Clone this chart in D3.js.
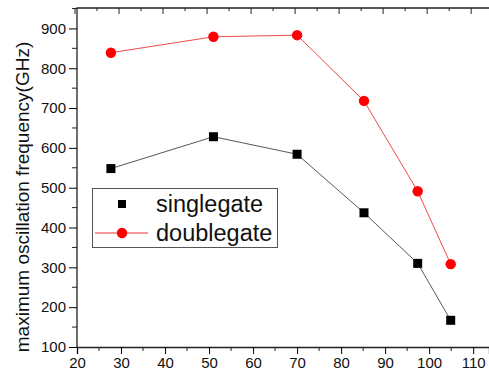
<!DOCTYPE html>
<html>
<head>
<meta charset="utf-8">
<script src="https://cdn.jsdelivr.net/npm/d3@7"></script>
<style>
  body { margin: 0; background: #fff; }
  svg { display: block; font-family: "Liberation Sans", Arial, sans-serif; }
</style>
</head>
<body>
<svg width="489" height="374"></svg>
<script>
const xs = [27.7, 51, 70, 85.2, 97.4, 104.9];
const singlegate = [548, 628, 584, 437, 310, 167];
const doublegate = [839, 879, 883, 718, 491, 308];
const xTicks = [20, 30, 40, 50, 60, 70, 80, 90, 100, 110];
const yTicks = [100, 200, 300, 400, 500, 600, 700, 800, 900];
const seriesNames = ["singlegate", "doublegate"];

const svg = d3.select("svg");
const plotLeft = 77, plotRight = 489, plotTop = 8, plotBottom = 347;

const x = d3.scaleLinear().domain([20, 113.6]).range([plotLeft, plotRight]);
const y = d3.scaleLinear().domain([100, 950]).range([plotBottom, plotTop + 0.5]);

// frame (right side cut off in the original)
svg.append("path")
    .attr("d", `M${plotLeft},${plotBottom}V${plotTop}H${plotRight + 2}`)
    .attr("fill", "none")
    .attr("stroke", "#222")
    .attr("stroke-width", 1.3);

// bottom axis
const xAxis = svg.append("g")
    .attr("transform", `translate(0,${plotBottom})`)
    .call(d3.axisBottom(x).tickValues(xTicks).tickSize(7).tickPadding(3).tickFormat(d3.format("d")));
xAxis.select(".domain").attr("stroke", "#222").attr("stroke-width", 1.3);
xAxis.selectAll("text").attr("font-size", 15).attr("fill", "#111").style("font-family", "Liberation Sans, Arial, sans-serif");
svg.append("g")
    .attr("transform", `translate(0,${plotBottom})`)
    .selectAll("line")
    .data(xTicks.map(d => d + 5))
    .join("line")
    .attr("x1", d => x(d)).attr("x2", d => x(d))
    .attr("y1", 0).attr("y2", 4)
    .attr("stroke", "#222");

// top ticks (inward)
svg.append("g")
    .selectAll("line")
    .data(xTicks.concat(xTicks.map(d => d + 5)))
    .join("line")
    .attr("x1", d => x(d) - 2).attr("x2", d => x(d) - 2)
    .attr("y1", plotTop).attr("y2", d => plotTop + (d % 10 === 0 ? 6 : 3))
    .attr("stroke", "#222");

// left axis
const yAxis = svg.append("g")
    .attr("transform", `translate(${plotLeft},0)`)
    .call(d3.axisLeft(y).tickValues(yTicks).tickSize(8).tickPadding(3).tickFormat(d3.format("d")));
yAxis.select(".domain").remove();
yAxis.selectAll("text").attr("font-size", 15).attr("fill", "#111").style("font-family", "Liberation Sans, Arial, sans-serif");
svg.append("g")
    .selectAll("line")
    .data(yTicks.map(d => d + 50))
    .join("line")
    .attr("x1", plotLeft - 5).attr("x2", plotLeft)
    .attr("y1", d => y(d)).attr("y2", d => y(d))
    .attr("stroke", "#222");

svg.append("text")
    .attr("transform", "translate(29,197) rotate(-90)")
    .attr("text-anchor", "middle")
    .attr("font-size", 19)
    .attr("fill", "#111")
    .text("maximum oscillation frequency(GHz)");

const line = d3.line().x((d, i) => x(xs[i])).y(d => y(d));

// singlegate
svg.append("path")
    .datum(singlegate)
    .attr("d", line)
    .attr("fill", "none")
    .attr("stroke", "#444")
    .attr("stroke-width", 0.9);
svg.append("g")
    .selectAll("rect")
    .data(singlegate)
    .join("rect")
    .attr("x", (d, i) => x(xs[i]) - 4.5)
    .attr("y", d => y(d) - 4.5)
    .attr("width", 9).attr("height", 9)
    .attr("fill", "#000");

// doublegate
svg.append("path")
    .datum(doublegate)
    .attr("d", line)
    .attr("fill", "none")
    .attr("stroke", "#e33")
    .attr("stroke-width", 0.9);
svg.append("g")
    .selectAll("circle")
    .data(doublegate)
    .join("circle")
    .attr("cx", (d, i) => x(xs[i]))
    .attr("cy", d => y(d))
    .attr("r", 5.2)
    .attr("fill", "#f00");

// legend
const legend = svg.append("g");
legend.append("rect")
    .attr("x", 92.5).attr("y", 188.5)
    .attr("width", 185).attr("height", 59)
    .attr("fill", "#fff")
    .attr("stroke", "#555");
legend.append("rect")
    .attr("x", 118).attr("y", 200).attr("width", 8).attr("height", 8)
    .attr("fill", "#000");
legend.append("line")
    .attr("x1", 95).attr("x2", 148).attr("y1", 233).attr("y2", 233)
    .attr("stroke", "#e33");
legend.append("circle")
    .attr("cx", 122).attr("cy", 233).attr("r", 5.2)
    .attr("fill", "#f00");
legend.selectAll("text.lab")
    .data(seriesNames)
    .join("text")
    .attr("class", "lab")
    .attr("x", 156)
    .attr("y", (d, i) => 212 + i * 29)
    .attr("font-size", 23.5)
    .attr("fill", "#111")
    .text(d => d);
</script>
</body>
</html>
